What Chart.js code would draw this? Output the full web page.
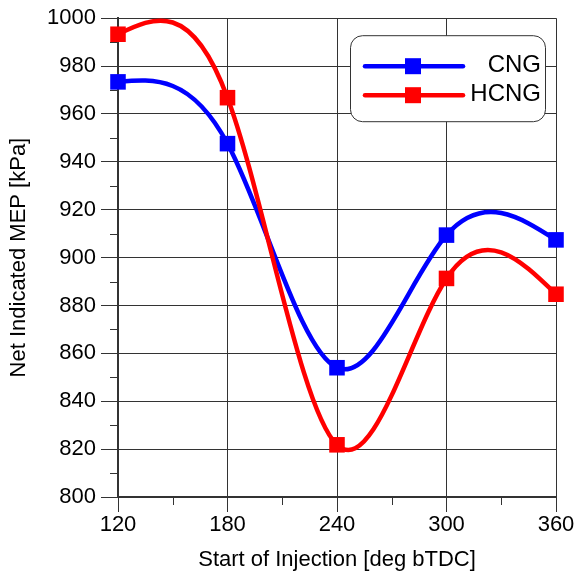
<!DOCTYPE html>
<html>
<head>
<meta charset="utf-8">
<script src="https://cdn.jsdelivr.net/npm/chart.js@4.4.1/dist/chart.umd.min.js"></script>
<style>
  html, body { margin: 0; padding: 0; background: #fff; }
</style>
</head>
<body>
<canvas id="mepChart" width="576" height="573"></canvas>
<script>
// ---------------- DATA ----------------
const injection = [120, 180, 240, 300, 360];
const cngMep = [973.4, 947.6, 854.0, 909.4, 907.4];
const hcngMep = [993.3, 966.8, 821.8, 891.3, 884.7];
const seriesNames = ["CNG", "HCNG"];
const seriesColors = ["#0000ff", "#ff0000"];
const xTicks = [120, 180, 240, 300, 360];
const yTicks = [800, 820, 840, 860, 880, 900, 920, 940, 960, 980, 1000];

const FONT = 'Arial, "Liberation Sans", sans-serif';
const AXIS = "#333";

function toPoints(ys) {
    return injection.map((x, i) => ({ x: x, y: ys[i] }));
}

// ---------------- NATURAL SPLINE CONTROL POINTS ----------------
// the curve is drawn by the line element, we only replace its bezier handles
const naturalSpline = {
    id: "naturalSpline",
    beforeDatasetDraw(chart, args) {
        const meta = args.meta;
        const line = meta.dataset;
        if (!line) return;
        line.updateControlPoints(chart.chartArea, "x");
        const pts = meta.data;
        const n = pts.length;
        if (n < 3) return;
        let h = [], m = new Array(n).fill(0);
        for (let i = 0; i < n - 1; i++) h.push(pts[i + 1].x - pts[i].x);
        // tridiagonal solve for second derivatives
        let a = [], b = [], c = [], d = [];
        for (let i = 1; i < n - 1; i++) {
            a.push(h[i - 1]);
            b.push(2 * (h[i - 1] + h[i]));
            c.push(h[i]);
            d.push(6 * ((pts[i + 1].y - pts[i].y) / h[i] - (pts[i].y - pts[i - 1].y) / h[i - 1]));
        }
        const k = b.length;
        for (let i = 1; i < k; i++) {
            const w = a[i] / b[i - 1];
            b[i] -= w * c[i - 1];
            d[i] -= w * d[i - 1];
        }
        let sol = new Array(k);
        sol[k - 1] = d[k - 1] / b[k - 1];
        for (let i = k - 2; i >= 0; i--) sol[i] = (d[i] - c[i] * sol[i + 1]) / b[i];
        for (let i = 0; i < k; i++) m[i + 1] = sol[i];

        for (let i = 0; i < n - 1; i++) {
            const p0 = pts[i], p1 = pts[i + 1];
            const slope = (p1.y - p0.y) / h[i];
            const s0 = slope - h[i] * (2 * m[i] + m[i + 1]) / 6;
            const s1 = slope + h[i] * (m[i] + 2 * m[i + 1]) / 6;
            p0.cp2x = p0.x + h[i] / 3;
            p0.cp2y = p0.y + s0 * h[i] / 3;
            p1.cp1x = p1.x - h[i] / 3;
            p1.cp1y = p1.y - s1 * h[i] / 3;
        }
        line._pointsUpdated = true;
        line._path = undefined;
    }
};

// ---------------- MINOR TICKS ----------------
const minorTicks = {
    id: "minorTicks",
    afterDraw(chart) {
        const ctx = chart.ctx;
        const xs = chart.scales.x, ys = chart.scales.y;
        ctx.save();
        ctx.strokeStyle = AXIS;
        ctx.lineWidth = 1;
        ctx.beginPath();
        for (let i = 0; i < yTicks.length - 1; i++) {
            const py = Math.round(ys.getPixelForValue((yTicks[i] + yTicks[i + 1]) / 2)) + 0.5;
            ctx.moveTo(xs.left - 8, py);
            ctx.lineTo(xs.left, py);
        }
        for (let i = 0; i < xTicks.length - 1; i++) {
            const px = Math.round(xs.getPixelForValue((xTicks[i] + xTicks[i + 1]) / 2)) + 0.5;
            ctx.moveTo(px, ys.bottom);
            ctx.lineTo(px, ys.bottom + 8);
        }
        ctx.stroke();
        ctx.restore();
    }
};

// ---------------- LEGEND BOX ----------------
const boxLegend = {
    id: "boxLegend",
    afterDraw(chart) {
        const ctx = chart.ctx;
        const ca = chart.chartArea;
        const x0 = ca.right - 206, y0 = ca.top + 17, w = 195, hgt = 86, r = 12;
        ctx.save();
        ctx.fillStyle = "#fff";
        ctx.strokeStyle = AXIS;
        ctx.lineWidth = 1;
        ctx.beginPath();
        ctx.roundRect(x0 + 0.5, y0 + 0.5, w, hgt, r);
        ctx.fill();
        ctx.stroke();
        chart.data.datasets.forEach((ds, i) => {
            const yy = y0 + 31 + i * 29;
            ctx.strokeStyle = ds.borderColor;
            ctx.lineWidth = 4.5;
            ctx.lineCap = "round";
            ctx.beginPath();
            ctx.moveTo(x0 + 15, yy);
            ctx.lineTo(x0 + 113, yy);
            ctx.stroke();
            ctx.fillStyle = ds.borderColor;
            ctx.fillRect(x0 + 63 - 8, yy - 8, 16, 16);
            ctx.fillStyle = "#000";
            ctx.font = "24px " + FONT;
            ctx.textAlign = "right";
            ctx.textBaseline = "middle";
            ctx.fillText(ds.label, x0 + 191, yy - 1);
        });
        ctx.restore();
    }
};

// ---------------- DRAW CHART ----------------
const datasets = [cngMep, hcngMep].map((ys, i) => ({
    label: seriesNames[i],
    data: toPoints(ys),
    borderColor: seriesColors[i],
    backgroundColor: seriesColors[i],
    borderWidth: 4.5,
    tension: 0.4,
    pointStyle: "rect",
    pointRadius: 11,
    pointBorderWidth: 0,
    clip: false,
    order: 2 - i
}));

new Chart(document.getElementById("mepChart"), {
    type: "line",
    data: { datasets: datasets },
    options: {
        responsive: false,
        animation: false,
        layout: { padding: { top: 15, right: 20, left: 0, bottom: 0 } },
        plugins: {
            legend: { display: false },
            tooltip: { enabled: false }
        },
        scales: {
            x: {
                type: "linear",
                min: 120,
                max: 360,
                afterBuildTicks: s => { s.ticks = xTicks.map(v => ({ value: v })); },
                afterFit: s => { s.height = 76; },
                grid: { color: AXIS, lineWidth: 1, tickLength: 15, tickColor: AXIS },
                border: { color: AXIS, width: 2 },
                ticks: { color: "#000", font: { family: FONT, size: 22 }, padding: 0, maxRotation: 0,
                         autoSkip: false, callback: v => String(v) },
                title: { display: true, text: "Start of Injection [deg bTDC]", color: "#000",
                         font: { family: FONT, size: 22 }, padding: 0 }
            },
            y: {
                type: "linear",
                min: 800,
                max: 1000,
                afterBuildTicks: s => { s.ticks = yTicks.map(v => ({ value: v })); },
                afterFit: s => { s.width = 118; },
                grid: { color: AXIS, lineWidth: 1, tickLength: 17, tickColor: AXIS },
                border: { color: AXIS, width: 2 },
                ticks: { color: "#000", font: { family: FONT, size: 22 }, padding: 5,
                         autoSkip: false, callback: v => String(v) },
                title: { display: true, text: "Net Indicated MEP [kPa]", color: "#000",
                         font: { family: FONT, size: 22 }, padding: { top: 6, bottom: 0 } }
            }
        }
    },
    plugins: [naturalSpline, minorTicks, boxLegend]
});
</script>
</body>
</html>
